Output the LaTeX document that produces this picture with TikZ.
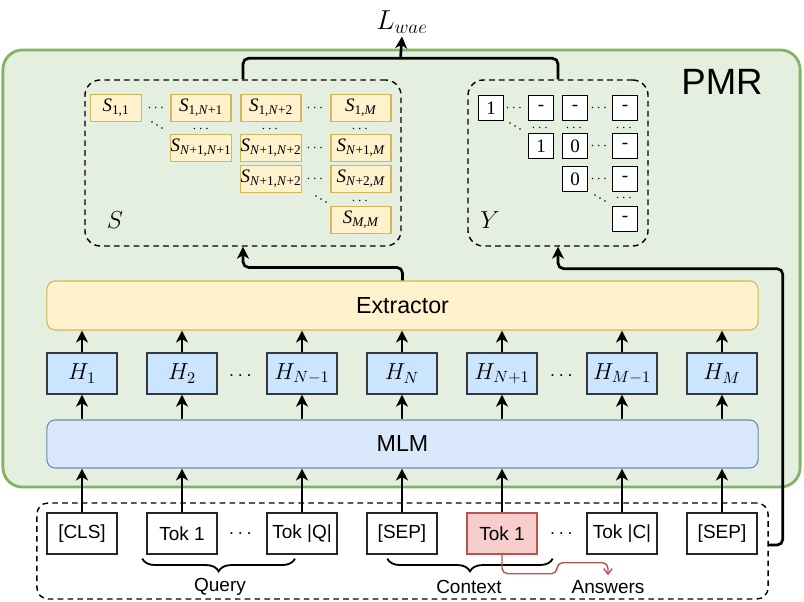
\RequirePackage{fix-cm}
\documentclass[tikz,border=0pt]{standalone}
\usepackage{amsmath, amssymb}
\usepackage{fontspec}
\setsansfont{Liberation Sans}
\newfontfamily\cellfont{Liberation Serif}
\usepackage{xcolor}
\usepackage{tikz}
\usetikzlibrary{arrows.meta, positioning, calc, decorations.pathreplacing}
\definecolor{pmrgreen}{HTML}{82B366}
\definecolor{pmrfill}{HTML}{E4EFDF}
\definecolor{extfill}{HTML}{FFF2CC}
\definecolor{extline}{HTML}{D6B656}
\definecolor{mlmfill}{HTML}{DAE8FC}
\definecolor{mlmline}{HTML}{6C8EBF}
\definecolor{hfill}{HTML}{CCE5FF}
\definecolor{hline}{HTML}{36393D}
\definecolor{ansfill}{HTML}{F8CECC}
\definecolor{ansline}{HTML}{B85450}

\newcommand{\Sij}[1]{\textit{S}\textsubscript{#1}}
\newcommand{\iN}{\textit{N}}
\newcommand{\iM}{\textit{M}}

\tikzset{
    flow/.style={-{Stealth[length=8.5pt, width=8.5pt, inset=2.5pt]}, line width=1.9pt},
    hnode/.style={draw=hline, fill=hfill, line width=1pt, minimum width=1.75cm, minimum height=1.025cm, inner sep=0pt, font=\fontsize{16.5}{18}\selectfont},
    toknode/.style={draw=black!85, fill=white, line width=1pt, minimum width=1.75cm, minimum height=1.025cm, inner sep=0pt, font=\sffamily\fontsize{13.5}{15}\selectfont},
    scell/.style={draw=extline, fill=extfill, line width=0.8pt, minimum width=1.5cm, minimum height=0.675cm, inner sep=0pt, font=\cellfont\fontsize{13.5}{14}\selectfont},
    ycell/.style={draw=black, fill=white, line width=1pt, minimum size=0.625cm, inner sep=0pt, font=\cellfont\fontsize{13.5}{14}\selectfont},
    wideblock/.style={rounded corners=6pt, line width=0.8pt, minimum width=17.775cm, minimum height=1.225cm, inner sep=0pt, font=\sffamily\fontsize{16.5}{18}\selectfont},
    dashbox/.style={draw, dash pattern=on 4pt off 3pt, line width=1pt, rounded corners=11pt, inner sep=0pt},
    mdots/.style={inner sep=0pt, font=\fontsize{10}{11}\selectfont},
    bigdots/.style={inner sep=0pt, font=\fontsize{14}{15}\selectfont},
    groupbrace/.style={decorate, decoration={brace, mirror, amplitude=9pt}, line width=1.3pt},
    grouplabel/.style={font=\sffamily\fontsize{13.5}{15}\selectfont},
}

\begin{document}
\begin{tikzpicture}[x=0.025cm, y=-0.025cm]
    \useasboundingbox (0,0) rectangle (804,602);

    % Riquadro PMR
    \node[draw=pmrgreen, fill=pmrfill, line width=2pt, rounded corners=14pt, minimum width=19.925cm, minimum height=10.925cm, inner sep=0pt] (pmr) at (401.5,268.5) {};
    \node[font=\sffamily\fontsize{26}{28}\selectfont] (pmrlabel) at (722,82) {PMR};
    \node[font=\fontsize{19.5}{21}\selectfont, inner sep=2pt] (loss) at (402,22) {$L_{wae}$};

    % Matrici S e Y
    \node[dashbox, minimum width=7.9cm, minimum height=4.15cm] (sbox) at (243,163) {};
    \node[dashbox, minimum width=4.5cm, minimum height=4.15cm] (ybox) at (558,163) {};
    \node[font=\fontsize{17.5}{19}\selectfont] (slabel) at (115,220) {$S$};
    \node[font=\fontsize{17.5}{19}\selectfont] (ylabel) at (490,220) {$Y$};

    \node[scell, minimum width=1.275cm] (s11) at (116,108) {\Sij{1,1}};
    \node[scell] (s1n1) at (201,108) {\Sij{1,\iN+1}};
    \node[scell] (s1n2) at (271,108) {\Sij{1,\iN+2}};
    \node[scell] (s1m) at (361,108) {\Sij{1,\iM}};
    \node[scell] (sn1n1) at (201,148) {\Sij{\iN+1,\iN+1}};
    \node[scell] (sn1n2) at (271,148) {\Sij{\iN+1,\iN+2}};
    \node[scell] (sn1m) at (361,148) {\Sij{\iN+1,\iM}};
    \node[scell] (sn1n2b) at (271,179) {\Sij{\iN+1,\iN+2}};
    \node[scell] (sn2m) at (361,179) {\Sij{\iN+2,\iM}};
    \node[scell] (smm) at (361,220) {\Sij{\iM,\iM}};

    \node[ycell] (y11) at (491,108) {1};
    \node[ycell] (y12) at (541,108) {-};
    \node[ycell] (y13) at (575,108) {-};
    \node[ycell] (y14) at (625,108) {-};
    \node[ycell] (y22) at (541,146) {1};
    \node[ycell] (y23) at (575,146) {0};
    \node[ycell] (y24) at (625,146) {-};
    \node[ycell] (y33) at (575,179) {0};
    \node[ycell] (y34) at (625,179) {-};
    \node[ycell] (y44) at (625,219) {-};

    % Puntini nelle matrici
    \foreach \p [count=\i] in {{157,108},{316,108},{316,148},{316,179},{202,129},{271,129},{361,129},{361,201},
                              {515,108},{600,108},{600,146},{600,179},{541,128},{575,128},{625,128},{625,198}}
        \node[mdots] (mdot\i) at (\p) {$\cdots$};
    % diagonali
    \foreach \x/\y in {152/122, 316/196, 510/123, 595/195}
        \foreach \k in {0,1,2}
            \fill ({\x+5*\k},{\y+3*\k}) circle (0.55pt);

    % Extractor, H, MLM
    \node[wideblock, draw=extline, fill=extfill] (extractor) at (402.5,305.5) {Extractor};
    \node[wideblock, draw=mlmline, fill=mlmfill, minimum height=1.2cm] (mlm) at (402.5,444) {MLM};

    \node[hnode] (h1) at (82,373.5) {$H_1$};
    \node[hnode] (h2) at (182,373.5) {$H_2$};
    \node[hnode] (hn0) at (302,373.5) {$H_{N-1}$};
    \node[hnode] (hn) at (402,373.5) {$H_N$};
    \node[hnode] (hn1) at (502,373.5) {$H_{N+1}$};
    \node[hnode] (hm0) at (622,373.5) {$H_{M-1}$};
    \node[hnode] (hm) at (722,373.5) {$H_M$};
    \node[bigdots] (hdots1) at (242,376) {$\cdots$};
    \node[bigdots] (hdots2) at (563,376) {$\cdots$};

    % Token in ingresso
    \node[dashbox, rounded corners=8pt, minimum width=18.275cm, minimum height=2.4cm] (inbox) at (402.5,551) {};
    \node[toknode] (cls) at (82,533.5) {[CLS]};
    \node[toknode] (qtok1) at (182,533.5) {Tok 1};
    \node[toknode] (qtokq) at (302,533.5) {Tok |Q|};
    \node[toknode] (sep1) at (402,533.5) {[SEP]};
    \node[toknode, draw=ansline, fill=ansfill] (ctok1) at (502,533.5) {Tok 1};
    \node[toknode] (ctokc) at (622,533.5) {Tok |C|};
    \node[toknode] (sep2) at (722,533.5) {[SEP]};
    \node[bigdots] (tdots1) at (242,534) {$\cdots$};
    \node[bigdots] (tdots2) at (563,534) {$\cdots$};

    \node[grouplabel] (query) at (220,587) {Query};
    \node[grouplabel] (context) at (469,587) {Context};
    \node[grouplabel] (answers) at (608,587) {Answers};
    \draw[groupbrace] ($(qtok1.south west)+(-4,4)$) -- ($(qtokq.south)+(-7,4)$);
    \draw[groupbrace] ($(sep1.south west)+(21,4)$) -- ($(ctok1.south east)+(15,4)$);
    \draw[ansline, line width=1pt, -{Straight Barb[length=4pt, width=6pt]}, rounded corners=4pt]
        (ctok1.south) -- ++(0,19) -| ++(55,-11) -| (answers.north);

    % Frecce
    \foreach \tok in {cls,qtok1,qtokq,sep1,ctok1,ctokc,sep2}
        \draw[flow] (\tok.north) -- (\tok.north |- mlm.south);
    \foreach \h in {h1,h2,hn0,hn,hn1,hm0,hm}
    {
        \draw[flow] (mlm.north -| \h.south) -- (\h.south);
        \draw[flow] (\h.north) -- (\h.north |- extractor.south);
    }
    \draw[flow, rounded corners=4pt] (extractor.north) -- ++(0,-13) -| (sbox.south);
    \coordinate (yturn) at ($(ybox.south)+(0,22)$);
    \draw[flow, rounded corners=4pt] ($(inbox.east)+(0,-6)$) -- ++(14,0) |- (yturn) -- (ybox.south);
    \coordinate (join) at ($(sbox.north)!0.5!(ybox.north)+(0,-21)$);
    \draw[line width=1.9pt, rounded corners=4pt] (sbox.north) |- (join) -| (ybox.north);
    \draw[flow] (join) -- (loss.south);
\end{tikzpicture}
\end{document}
